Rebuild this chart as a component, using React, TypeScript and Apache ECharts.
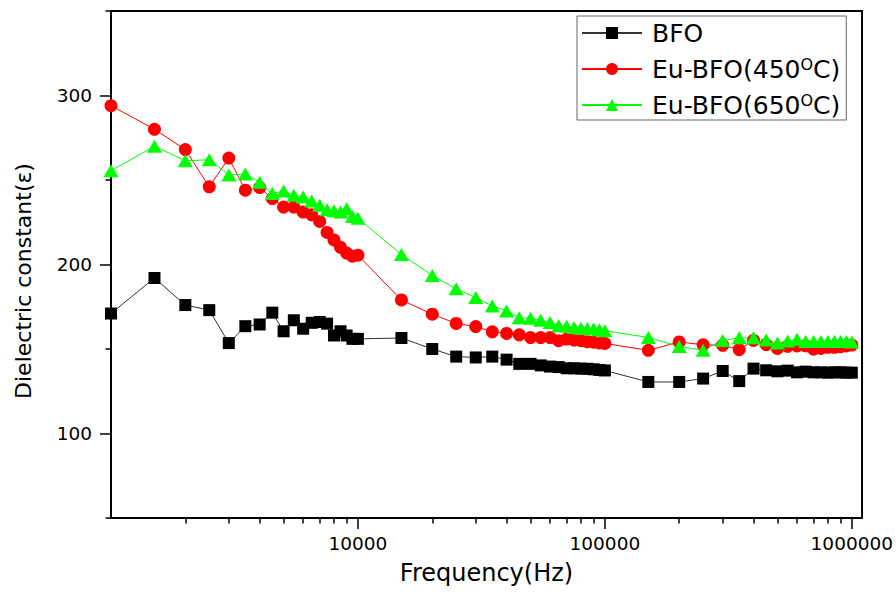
import { useEffect, useRef } from 'react';
import * as echarts from 'echarts';

const frequencies = [
  1000, 1500, 2000, 2500, 3000, 3500, 4000, 4500, 5000, 5500, 6000, 6500, 7000, 7500, 8000, 8500, 9000, 9500, 10000,
  15000, 20000, 25000, 30000, 35000, 40000, 45000, 50000, 55000, 60000, 65000, 70000, 75000, 80000, 85000, 90000, 95000, 100000,
  150000, 200000, 250000, 300000, 350000, 400000, 450000, 500000, 550000, 600000, 650000, 700000, 750000, 800000, 850000, 900000, 950000, 1000000,
];

const bfo = [
  171, 192, 176, 173, 153.5, 163.5, 164.5, 171.5, 160.5, 167, 162, 165.5, 166, 165, 158, 160.5, 158, 156, 156,
  156.5, 150, 145.5, 145, 145.5, 143.7, 141.2, 141.2, 140.3, 139.6, 139.3, 138.6, 138.6, 138.4, 138.3, 138, 137.6, 137.3,
  130.5, 130.5, 132.5, 137, 131, 138.4, 137.4, 136.8, 137.2, 136.2, 136.6, 136.2, 136.2, 136, 136.2, 136.2, 136, 136,
];

const euBfo450 = [
  294, 280, 268, 246, 263, 244, 245.5, 239, 234, 234, 231, 229.4, 225.5, 219, 214.5, 210.2, 206.8, 204.9, 205.5,
  179, 170.6, 165.1, 163.3, 160.2, 159.2, 158.4, 156.8, 156.8, 156.8, 154.9, 155.9, 155.3, 154.9, 154.3, 154, 153.6, 153.3,
  149.2, 154.2, 152.5, 152.2, 149.7, 155.1, 152.6, 150.3, 151.6, 151.8, 151.9, 150, 150.3, 151, 151, 151.4, 151.8, 152.3,
];

const euBfo650 = [
  255.5, 270, 261.4, 262, 253, 253.5, 248.6, 242, 243.5, 241, 240, 237.6, 235, 232.4, 231.8, 231, 233, 228.4, 227.4,
  205.9, 193.5, 185.6, 180.4, 175.5, 172.5, 168.5, 168.2, 167, 165.7, 163.7, 163.5, 162.7, 162.3, 162.2, 161.8, 161.4, 160.8,
  156.8, 151.5, 149.3, 155.1, 156.6, 156.6, 155.3, 153.6, 154.7, 155.7, 154.5, 154.5, 154.5, 154.5, 154.5, 154.5, 154.5, 154.2,
];

const seriesNames = ['BFO', 'Eu-BFO(450°C)', 'Eu-BFO(650°C)'];
const xMajorTicks = [10000, 100000, 1000000];
const xMinorTicks = [
  2000, 3000, 4000, 5000, 6000, 7000, 8000, 9000,
  20000, 30000, 40000, 50000, 60000, 70000, 80000, 90000,
  200000, 300000, 400000, 500000, 600000, 700000, 800000, 900000,
];
const yMajorTicks = [100, 200, 300];
const yMinorTicks = [50, 150, 250, 350];
const xAxisTitle = 'Frequency(Hz)';
const yAxisTitle = 'Dielectric constant(ε)';

const FONT = 'DejaVu Sans';

export default function App() {
  const ref = useRef<HTMLDivElement>(null);

  useEffect(() => {
    if (!ref.current) return;
    const chart = echarts.init(ref.current, undefined, { renderer: 'svg' });

    const pairs = (vals: number[]) => frequencies.map((f, i) => [f, vals[i]]);

    const baseX = {
      type: 'log' as const,
      logBase: 10,
      min: 1000,
      max: 1100000,
      position: 'bottom' as const,
      splitLine: { show: false },
    };
    const baseY = {
      type: 'value' as const,
      min: 50,
      max: 350,
      interval: 50,
      position: 'left' as const,
      splitLine: { show: false },
    };

    chart.setOption({
      animation: false,
      backgroundColor: '#ffffff',
      grid: {
        left: 111,
        top: 11,
        right: 33,
        bottom: 81,
        show: true,
        borderColor: '#000',
        borderWidth: 2,
        backgroundColor: 'transparent',
      },
      xAxis: [
        {
          ...baseX,
          name: xAxisTitle,
          nameLocation: 'middle',
          nameGap: 43,
          nameTextStyle: { fontFamily: FONT, fontSize: 24, color: '#000' },
          axisLine: { show: true, lineStyle: { color: '#000', width: 2 } },
          axisTick: { show: true, length: 11, customValues: xMajorTicks, lineStyle: { color: '#000', width: 1.5 } },
          axisLabel: {
            show: true,
            customValues: xMajorTicks,
            margin: 16,
            fontFamily: FONT,
            fontSize: 18.5,
            color: '#000',
            formatter: (v: number) => String(Math.round(v)),
          },
        },
        {
          ...baseX,
          axisLine: { show: false },
          axisTick: { show: true, length: 5.5, customValues: xMinorTicks, lineStyle: { color: '#000', width: 1.5 } },
          axisLabel: { show: false },
        },
      ],
      yAxis: [
        {
          ...baseY,
          axisLine: { show: true, lineStyle: { color: '#000', width: 2 } },
          axisTick: { show: true, length: 11, customValues: yMajorTicks, lineStyle: { color: '#000', width: 1.5 } },
          axisLabel: {
            show: true,
            customValues: yMajorTicks,
            margin: 19,
            fontFamily: FONT,
            fontSize: 18.5,
            color: '#000',
          },
        },
        {
          ...baseY,
          axisLine: { show: false },
          axisTick: { show: true, length: 5.5, customValues: yMinorTicks, lineStyle: { color: '#000', width: 1.5 } },
          axisLabel: { show: false },
        },
      ],
      legend: {
        orient: 'vertical',
        left: 577,
        top: 16,
        padding: [4, 6, 2, 4],
        itemGap: 10,
        itemWidth: 60,
        itemHeight: 15,
        borderColor: '#666',
        borderWidth: 1,
        backgroundColor: '#fff',
        data: seriesNames,
        formatter: (name: string) => name.replace('°', '{sup|O}'),
        textStyle: {
          fontFamily: FONT,
          fontSize: 25,
          lineHeight: 26,
          color: '#000',
          padding: [0, 0, 0, 5],
          rich: {
            sup: { fontFamily: FONT, fontSize: 16, lineHeight: 14, verticalAlign: 'top', color: '#000' },
          },
        },
      },
      graphic: [
        {
          type: 'text',
          x: 23,
          y: 281,
          rotation: Math.PI / 2,
          style: {
            text: yAxisTitle,
            font: `22px "${FONT}"`,
            fill: '#000',
            textAlign: 'center',
            textVerticalAlign: 'middle',
          },
        },
      ],
      series: [
        {
          name: seriesNames[0],
          type: 'line',
          xAxisIndex: 0,
          yAxisIndex: 0,
          data: pairs(bfo),
          symbol: 'rect',
          symbolSize: 12,
          color: '#000000',
          lineStyle: { color: '#333333', width: 1 },
          itemStyle: { color: '#000000' },
        },
        {
          name: seriesNames[1],
          type: 'line',
          xAxisIndex: 0,
          yAxisIndex: 0,
          data: pairs(euBfo450),
          symbol: 'circle',
          symbolSize: 13,
          color: '#ff0000',
          lineStyle: { color: '#ff0000', width: 1 },
          itemStyle: { color: '#ff0000' },
        },
        {
          name: seriesNames[2],
          type: 'line',
          xAxisIndex: 0,
          yAxisIndex: 0,
          data: pairs(euBfo650),
          symbol: 'triangle',
          symbolSize: [15, 13],
          color: '#00ff00',
          lineStyle: { color: '#00ff00', width: 1 },
          itemStyle: { color: '#00ff00' },
        },
      ],
    });

    return () => chart.dispose();
  }, []);

  return (
    <div
      ref={ref}
      style={{ position: 'fixed', left: 0, top: 0, width: 896, height: 599, background: '#fff' }}
    />
  );
}
